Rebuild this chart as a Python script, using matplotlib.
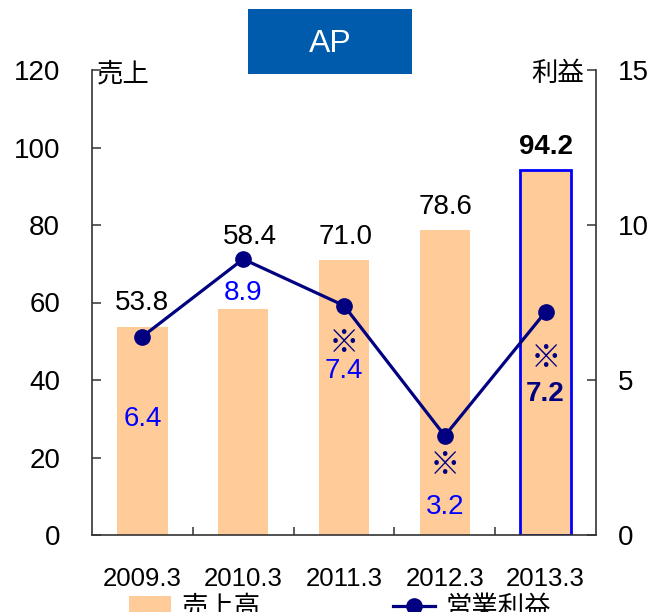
import matplotlib
matplotlib.use("Agg")
import matplotlib.pyplot as plt
from matplotlib.patches import Rectangle, Patch
from matplotlib.lines import Line2D

plt.rcParams['font.family'] = ['Liberation Sans', 'Noto Sans CJK JP']

# ---- data ----
categories = ['2009.3', '2010.3', '2011.3', '2012.3', '2013.3']
sales = [53.8, 58.4, 71.0, 78.6, 94.2]
profit = [6.4, 8.9, 7.4, 3.2, 7.2]
sales_labels = ['53.8', '58.4', '71.0', '78.6', '94.2']
profit_labels = ['6.4', '8.9', '7.4', '3.2', '7.2']
profit_note = [False, False, True, True, True]   # ※ mark
left_ticks = [0, 20, 40, 60, 80, 100, 120]
right_ticks = [0, 5, 10, 15]
title = 'AP'
left_label = '売上'
right_label = '利益'
legend_labels = ['売上高', '営業利益']

# ---- styles / positions ----
BAR_C = '#FFCC99'
LINE_C = '#000080'
BLUE = '#0000FF'
W, H = 651, 612
fig = plt.figure(figsize=(W / 100, H / 100), dpi=100)
ax = fig.add_axes([92 / W, 1 - 535 / H, (596 - 92) / W, (535 - 70) / H])
ax2 = ax.twinx()

x = list(range(len(categories)))
bars = ax.bar(x, sales, width=0.5, color=BAR_C, zorder=2)
bars[-1].set_edgecolor(BLUE)
bars[-1].set_linewidth(2)
ax.set_xlim(-0.5, len(categories) - 0.5)
ax.set_ylim(0, 120)
ax2.set_ylim(0, 15)

ax2.plot(x, profit, color=LINE_C, lw=2.3, marker='o', ms=11, zorder=5)

# spines / ticks
for a in (ax, ax2):
    a.spines['top'].set_visible(False)
    for s in a.spines.values():
        s.set_color('#333333')
        s.set_linewidth(1.2)
ax.spines['right'].set_visible(False)
ax2.spines['left'].set_visible(False)
ax2.spines['bottom'].set_visible(False)

ax.set_yticks(left_ticks)
ax.tick_params(axis='y', direction='in', length=6.5, width=1.1, color='#333333',
               labelsize=20, pad=23)
ax2.set_yticks(right_ticks)
ax2.tick_params(axis='y', direction='in', length=6.5, width=1.1, color='#333333',
                labelsize=20, pad=16)
ax.set_xticks(x)
ax.set_xticklabels(categories)
ax.set_xticks([i + 0.5 for i in x[:-1]], minor=True)
ax.tick_params(axis='x', which='major', length=0, labelsize=18.5, pad=23)
ax.tick_params(axis='x', which='minor', direction='in', length=6, width=1.1, color='#333333')

# bar value labels
bar_off = [(0, 24), (7, 72), (2, 23), (1, 23), (0, 23)]
for i, (v, t) in enumerate(zip(sales, sales_labels)):
    last = i == len(sales) - 1
    ax.annotate(t, xy=(i, v), xytext=bar_off[i], textcoords='offset pixels',
                ha='center', va='center', fontsize=20,
                fontweight='bold' if last else 'normal', color='black', zorder=6)

# profit labels
note_off = [None, None, -37, -29, -46]
lab_off = [-82, -34, -65, -71, -82]
for i, (v, t) in enumerate(zip(profit, profit_labels)):
    last = i == len(profit) - 1
    if profit_note[i]:
        ax2.annotate('※', xy=(i, v), xytext=(0, note_off[i]), textcoords='offset pixels',
                     ha='center', va='center', fontsize=22, color=LINE_C,
                     family=['Noto Sans CJK JP'], zorder=6)
    ax2.annotate(t, xy=(i, v), xytext=(0, lab_off[i]), textcoords='offset pixels',
                 ha='center', va='center', fontsize=20,
                 fontweight='bold' if last else 'normal',
                 color=LINE_C if last else BLUE, zorder=6)

# axis corner labels
fig.text(97 / W, 1 - 74 / H, left_label, ha='left', va='center', fontsize=19)
fig.text(584 / W, 1 - 74 / H, right_label, ha='right', va='center', fontsize=19)

# title box
fig.patches.append(Rectangle((248 / W, 1 - 74 / H), (412 - 248) / W, (74 - 9) / H,
                             transform=fig.transFigure, facecolor='#005BAC',
                             edgecolor='none', zorder=1))
fig.text(330 / W, 1 - 44 / H, title, ha='center', va='center', fontsize=23,
         color='white', zorder=2)

# legend (bottom, partially cut as in the reference)
handles = [Patch(facecolor=BAR_C, edgecolor='none'),
           Line2D([0], [0], color=LINE_C, lw=2.3, marker='o', ms=11)]
fig.legend(handles, legend_labels, loc='upper left',
           bbox_to_anchor=(129 / W, 1 - 595 / H), ncol=2, frameon=False,
           fontsize=19, handlelength=1.6, handletextpad=0.4, columnspacing=5.0,
           borderpad=0, borderaxespad=0)

fig.savefig('out.png', dpi=100)
